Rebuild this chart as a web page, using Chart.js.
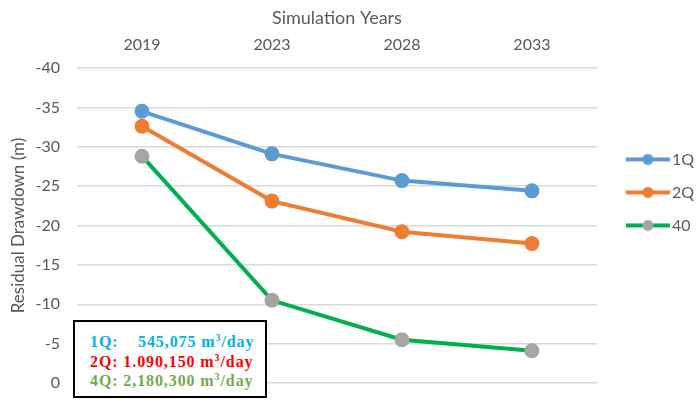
<!DOCTYPE html>
<html>
<head>
<meta charset="utf-8">
<script src="https://cdn.jsdelivr.net/npm/chart.js@4/dist/chart.umd.min.js"></script>
<style>
  html, body { margin: 0; padding: 0; background: #fff; }
  #wrap { position: relative; width: 700px; height: 400px; }
  #note {
    position: absolute; left: 73px; top: 320px; width: 194px; height: 78px;
    border: 2px solid #000; background: #fff;
    font-family: "Liberation Serif", serif; font-weight: bold; font-size: 16px;
    letter-spacing: 0.9px; line-height: 19.5px; padding: 10px 0 0 15px;
    box-sizing: border-box; white-space: pre;
  }
  #note sup { font-size: 10px; line-height: 0; vertical-align: 6px; }
</style>
</head>
<body>
<div id="wrap">
  <canvas id="chart" width="700" height="400"></canvas>
  <div id="note"><div style="color:#00B0F0">1Q:    545,075 m<sup>3</sup>/day</div><div style="color:#FF0000">2Q: 1.090,150 m<sup>3</sup>/day</div><div style="color:#70AD47">4Q: 2,180,300 m<sup>3</sup>/day</div></div>
</div>
<script>
// Categories (simulation years) and residual drawdown per pumping scenario
const years = ['2019', '2023', '2028', '2033'];
const seriesLabels = ['1Q', '2Q', '40'];
const q1 = [-34.5, -29.1, -25.7, -24.4];
const q2 = [-32.6, -23.1, -19.2, -17.7];
const q4 = [-28.8, -10.5, -5.5, -4.1];
const yTicks = [-40, -35, -30, -25, -20, -15, -10, -5, 0];

const lineColors = ['#5B9BD5', '#ED7D31', '#00B050'];
const markerColors = ['#5B9BD5', '#ED7D31', '#A5A5A5'];
const textGrey = '#595959';
const fontFamily = 'Lato, "Liberation Sans", sans-serif';

// line + dot legend icon (Excel style); wider than the legend box so the
// line sits further right and runs almost up to the label text
function legendIcon(line, dot) {
    const c = document.createElement('canvas');
    c.width = 74; c.height = 14;
    const g = c.getContext('2d');
    g.strokeStyle = line;
    g.lineWidth = 4;
    g.beginPath();
    g.moveTo(24, 7); g.lineTo(68, 7);
    g.stroke();
    g.fillStyle = dot;
    g.beginPath();
    g.arc(46, 7, 5.5, 0, Math.PI * 2);
    g.fill();
    return c;
}

const datasets = [q1, q2, q4].map((data, i) => ({
    label: seriesLabels[i],
    data: data,
    borderColor: lineColors[i],
    backgroundColor: markerColors[i],
    pointBackgroundColor: markerColors[i],
    pointBorderColor: markerColors[i],
    borderWidth: 4,
    pointRadius: 5.5,
    pointHoverRadius: 5.5,
    tension: 0
}));

const ctx = document.getElementById('chart').getContext('2d');
new Chart(ctx, {
    type: 'line',
    data: { labels: years, datasets: datasets },
    options: {
        responsive: false,
        animation: false,
        devicePixelRatio: 1,
        layout: { padding: { left: 0, right: -4, top: 0, bottom: 17 } },
        plugins: {
            legend: {
                position: 'right',
                align: 'start',
                title: { display: true, text: '', padding: { top: 0, bottom: 120 } },
                labels: {
                    color: textGrey,
                    font: { family: fontFamily, size: 16 },
                    usePointStyle: true,
                    pointStyleWidth: 50,
                    padding: 17,
                    generateLabels: chart => chart.data.datasets.map((ds, i) => ({
                        text: ds.label,
                        pointStyle: legendIcon(lineColors[i], markerColors[i]),
                        fillStyle: 'transparent',
                        strokeStyle: 'transparent',
                        lineWidth: 0,
                        fontColor: textGrey,
                        datasetIndex: i
                    }))
                }
            },
            tooltip: { enabled: false }
        },
        scales: {
            x: {
                position: 'top',
                offset: true,
                grid: { display: false },
                border: { display: false },
                afterFit: axis => { axis.height = 68; },
                ticks: { color: textGrey, font: { family: fontFamily, size: 16 }, padding: 6 },
                title: {
                    display: true,
                    text: 'Simulation Years',
                    color: textGrey,
                    font: { family: fontFamily, size: 18 },
                    padding: { top: 7, bottom: 0 }
                }
            },
            y: {
                reverse: true,
                min: -40,
                max: 0,
                afterBuildTicks: axis => { axis.ticks = yTicks.map(v => ({ value: v })); },
                afterFit: axis => {
                    axis.width = 77;
                    axis.paddingTop = 0;
                    axis.paddingBottom = 0;
                },
                grid: { color: '#D9D9D9', lineWidth: 1.5, drawTicks: false },
                border: { display: false },
                ticks: { color: textGrey, font: { family: fontFamily, size: 16 }, padding: 17 },
                title: {
                    display: true,
                    text: 'Residual Drawdown (m)',
                    color: textGrey,
                    font: { family: fontFamily, size: 17 },
                    padding: { top: 8, bottom: 0 }
                }
            }
        }
    }
});
</script>
</body>
</html>
